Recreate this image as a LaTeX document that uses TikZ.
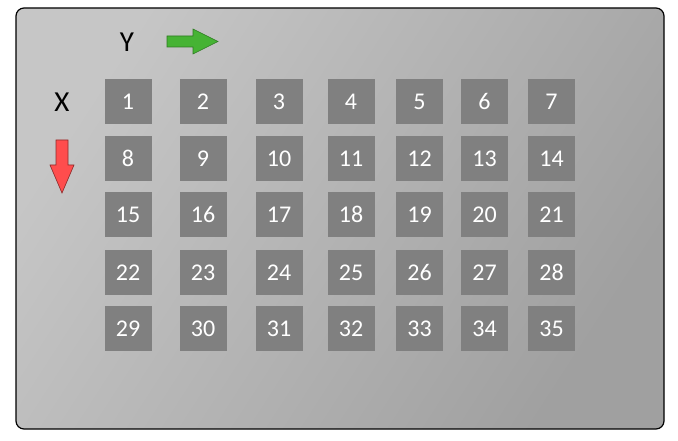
\documentclass[tikz,border=0pt]{standalone}
\usepackage{fontspec}
\setmainfont{Carlito}
\usepackage{tikz}

\definecolor{cellgray}{HTML}{808080}
\definecolor{panellight}{HTML}{C6C6C6}
\definecolor{paneldark}{HTML}{A0A0A0}
\definecolor{arrowgreen}{HTML}{46B334}
\definecolor{arrowgreenline}{HTML}{2E7A22}
\definecolor{arrowred}{HTML}{FF4D4D}
\definecolor{arrowredline}{HTML}{8C2B2B}

\tikzset{
  cell/.style={fill=cellgray, minimum width=47pt, minimum height=45pt,
    inner sep=0pt, text=white, font=\fontsize{24}{26}\selectfont},
  axislabel/.style={inner sep=0pt, font=\fontsize{29}{32}\selectfont}
}

\begin{document}
\begin{tikzpicture}[x=1pt,y=-1pt]
    \useasboundingbox (0,0) rectangle (678,441);
    % panel
    \shade[draw=black, line width=1.2pt, rounded corners=8pt,
      left color=panellight, right color=paneldark, shading angle=57]
      (16,8) rectangle (664,429);
    % direction labels
    \node[axislabel] (label-y) at (127,42) {Y};
    \node[axislabel] (label-x) at (62,102) {X};
    \filldraw[fill=arrowgreen, draw=arrowgreenline, line width=0.6pt]
      (167,36) -- (193,36) -- (193,29) -- (218,41.5)
      -- (193,54) -- (193,47) -- (167,47) -- cycle;
    \filldraw[fill=arrowred, draw=arrowredline, line width=0.6pt]
      (56,140) -- (68,140) -- (68,165) -- (74,165)
      -- (62,193) -- (50,165) -- (56,165) -- cycle;
    % numbered cells
    \foreach \cx [count=\c] in {128,203,279,351,419.5,484.5,551.5}
      \foreach \cy [count=\r] in {101.5,158.5,214.5,272.5,328.5}
      {
        \pgfmathtruncatemacro{\n}{7*(\r-1)+\c}
        \node[cell] (cell-\n) at (\cx,\cy) {\n};
      }
\end{tikzpicture}
\end{document}
